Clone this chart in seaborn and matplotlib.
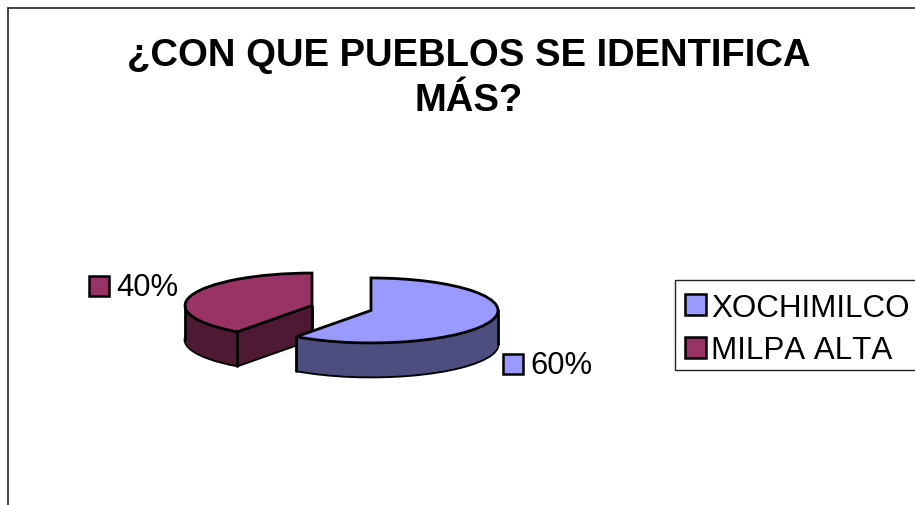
import numpy as np
import matplotlib
matplotlib.use('Agg')
import matplotlib.pyplot as plt
from matplotlib.lines import Line2D
from matplotlib.patches import Patch, Rectangle
import seaborn as sns

# Datos
titulo = '¿CON QUE PUEBLOS SE IDENTIFICA\nMÁS?'
pueblos = ['XOCHIMILCO', 'MILPA ALTA']
porcentajes = [60, 40]

# Colores (cara superior y pared lateral)
colores = ['#9999FF', '#993366']
oscuros = ['#4D4D80', '#4D1933']

sns.set_theme(style='white')
plt.rcParams['font.family'] = ['Liberation Sans', 'DejaVu Sans']
# casi sin kerning, como el original
plt.rcParams['text.kerning_factor'] = 6

W, H = 915, 506
fig = plt.figure(figsize=(W / 100, H / 100), dpi=100, facecolor='white')
ax = fig.add_axes([0, 0, 1, 1])


# pixeles a coordenadas de figura
def fx(x):
    return x / W


def fy(y):
    return 1 - y / H


# Geometria del pastel "3D"
cx, cy = 341.5, 309
rx, ry = 127, 32.5
prof = 34
sep = 31 / rx
grueso = 2.0


def pastel(y, props):
    w, _ = ax.pie(porcentajes, colors=colores, radius=1, center=(0, y), startangle=90,
                  counterclock=False, explode=[sep, sep], wedgeprops=props)
    w[0].set_zorder(3)
    w[1].set_zorder(2)
    return w


# Paredes: capas apiladas de abajo hacia arriba
for d in np.arange(prof, 0, -0.5):
    capa = pastel(-d / ry, dict(linewidth=grueso if d == prof else 0, edgecolor='black'))
    for c, o in zip(capa, oscuros):
        c.set_facecolor(o)

# Cara superior
arriba = pastel(0, dict(linewidth=grueso, edgecolor='black'))

# Aristas verticales
azul, rojo = arriba
punta_azul = azul.center[0] + np.cos(np.radians(azul.theta1)), azul.center[1] + np.sin(np.radians(azul.theta1))
punta_rojo = rojo.center[0] + np.cos(np.radians(rojo.theta2)), rojo.center[1] + np.sin(np.radians(rojo.theta2))
for x0, y0, z in [(azul.center[0] + 1, azul.center[1], 3), (punta_azul[0], punta_azul[1], 3),
                  (rojo.center[0] - 1, rojo.center[1], 2), (punta_rojo[0], punta_rojo[1], 2),
                  (rojo.center[0], rojo.center[1], 2)]:
    ax.plot([x0, x0], [y0, y0 - prof / ry], color='black', lw=grueso, zorder=z, solid_capstyle='round')

ax.set_aspect('auto')
ax.set_xlim(-cx / rx, (W - cx) / rx)
ax.set_ylim(-(H - cy) / ry, cy / ry)
ax.axis('off')

# Titulo
fig.text(fx(468.5), fy(56), titulo.split('\n')[0], ha='center', va='center', fontsize=27.5, fontweight='bold', color='black')
fig.text(fx(468.5), fy(101), titulo.split('\n')[1], ha='center', va='center', fontsize=27.5, fontweight='bold', color='black')

# Etiquetas de datos con su cuadrito
pos_etiquetas = [(503, 355), (89, 277)]
for (x, y), p, col in zip(pos_etiquetas, porcentajes, colores):
    fig.add_artist(Rectangle((fx(x), fy(y + 20)), 20 / W, 20 / H, transform=fig.transFigure,
                             facecolor=col, edgecolor='black', linewidth=1.8))
    fig.text(fx(x + 27), fy(y + 11.5), f'{p}%', ha='left', va='center', fontsize=22.3, color='black')

# Marco de la leyenda, se sale por la derecha
fig.add_artist(Rectangle((fx(675), fy(371)), 260 / W, 90 / H, transform=fig.transFigure,
                         facecolor='white', edgecolor='#222222', linewidth=1.0))

# Leyenda
handles = [Patch(facecolor=c, edgecolor='black', linewidth=1.8, label=n) for c, n in zip(colores, pueblos)]
leg = fig.legend(handles=handles, loc='upper left', bbox_to_anchor=(fx(675.5), fy(284.5)), bbox_transform=fig.transFigure,
                 fontsize=22.6, frameon=False,
                 handlelength=0.66, handleheight=0.66, handletextpad=0.17, labelspacing=0.40,
                 borderpad=0.3, borderaxespad=0, labelcolor='black')
leg.set_zorder(5)

# Marco del grafico (solo arriba e izquierda)
fig.add_artist(Line2D([fx(8), 1], [fy(9), fy(9)], color='#222222', lw=1.2))
fig.add_artist(Line2D([fx(8), fx(8)], [fy(9), 0], color='#222222', lw=1.2))

fig.savefig('out.png', dpi=100)
